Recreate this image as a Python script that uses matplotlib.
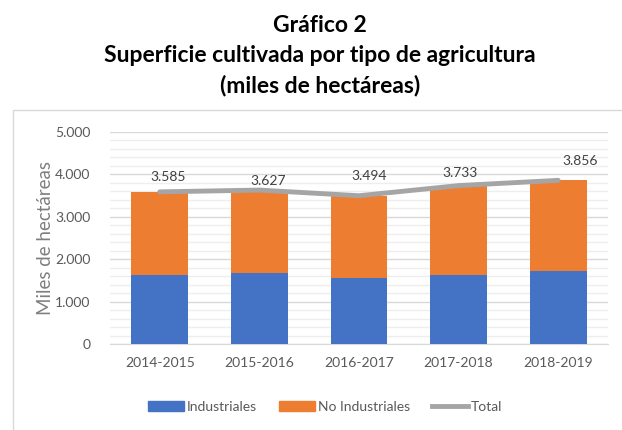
import matplotlib
matplotlib.use("Agg")
import matplotlib.pyplot as plt
from matplotlib.patches import Rectangle, Patch
from matplotlib.lines import Line2D
from matplotlib.ticker import MultipleLocator, FuncFormatter

plt.rcParams['font.family'] = ['Lato', 'DejaVu Sans']

categories = ["2014-2015", "2015-2016", "2016-2017", "2017-2018", "2018-2019"]
industriales = [1630, 1685, 1567, 1630, 1732]
total = [3585, 3627, 3494, 3733, 3856]
no_industriales = [t - i for t, i in zip(total, industriales)]
label_offsets = [(8, 9), (9, 3), (10, 14), (1, 7), (22, 13)]  # pixel offsets of total labels

W, H = 622, 430
fig = plt.figure(figsize=(W / 100, H / 100), dpi=100)

# chart border
fig.patches.append(Rectangle((13 / W, -0.1), 1.2, 1 - 110 / H + 0.1, transform=fig.transFigure,
                             fill=False, edgecolor="#d9d9d9", linewidth=1.0))

ax = fig.add_axes([110 / W, 1 - 344.3 / H, (608 - 110) / W, (344.3 - 131.7) / H])

blue = "#4472c4"
orange = "#ed7d31"
grey = "#a5a5a5"

x = list(range(len(categories)))
bw = 0.57
ax.bar(x, industriales, width=bw, color=blue, zorder=3)
ax.bar(x, no_industriales, bottom=industriales, width=bw, color=orange, zorder=3)
ax.plot(x, total, color=grey, linewidth=3.5, solid_capstyle="round", zorder=4)

for xi, t, (dx, dy) in zip(x, total, label_offsets):
    ax.annotate(f"{t:,}".replace(",", "."), (xi, t), xytext=(dx * 0.72, dy * 0.72),
                textcoords="offset points", ha="center", va="bottom", fontsize=10,
                color="#404040", zorder=5)

ax.set_xlim(-0.5, len(categories) - 0.5)
ax.set_ylim(0, 5000)
ax.yaxis.set_major_locator(MultipleLocator(1000))
ax.yaxis.set_minor_locator(MultipleLocator(200))
ax.yaxis.set_major_formatter(FuncFormatter(lambda v, p: f"{int(v):,}".replace(",", ".")))
ax.grid(axis="y", which="major", color="#d9d9d9", linewidth=1.0, zorder=0)
ax.grid(axis="y", which="minor", color="#eeeeee", linewidth=1.0, zorder=0)
for s in ["top", "right", "left"]:
    ax.spines[s].set_visible(False)
ax.spines["bottom"].set_color("#d9d9d9")
ax.tick_params(axis="both", which="both", length=0, labelsize=10, labelcolor="#595959")
ax.tick_params(axis="y", pad=14)
ax.tick_params(axis="x", pad=9)
ax.set_xticks(x)
ax.set_xticklabels(categories)
ax.set_ylabel("Miles de hectáreas", fontsize=13.5, color="#7f7f7f", labelpad=1)

tkw = dict(ha="center", va="center", fontsize=16.5, fontweight="bold", color="black")
fig.text(320 / W, 1 - 25 / H, "Gráfico 2", **tkw)
fig.text(320 / W, 1 - 55 / H, "Superficie cultivada por tipo de agricultura", **tkw)
fig.text(320 / W, 1 - 85 / H, "(miles de hectáreas)", **tkw)

handles = [Patch(color=blue, label="Industriales"),
           Patch(color=orange, label="No Industriales"),
           Line2D([], [], color=grey, linewidth=3.5, label="Total")]
fig.legend(handles=handles, loc="center", bbox_to_anchor=(325 / W, 1 - 407 / H), ncol=3, frameon=False,
           fontsize=10, labelcolor="#595959", handlelength=2.6, handletextpad=0.2, columnspacing=1.6)

fig.savefig("out.png", dpi=100)
